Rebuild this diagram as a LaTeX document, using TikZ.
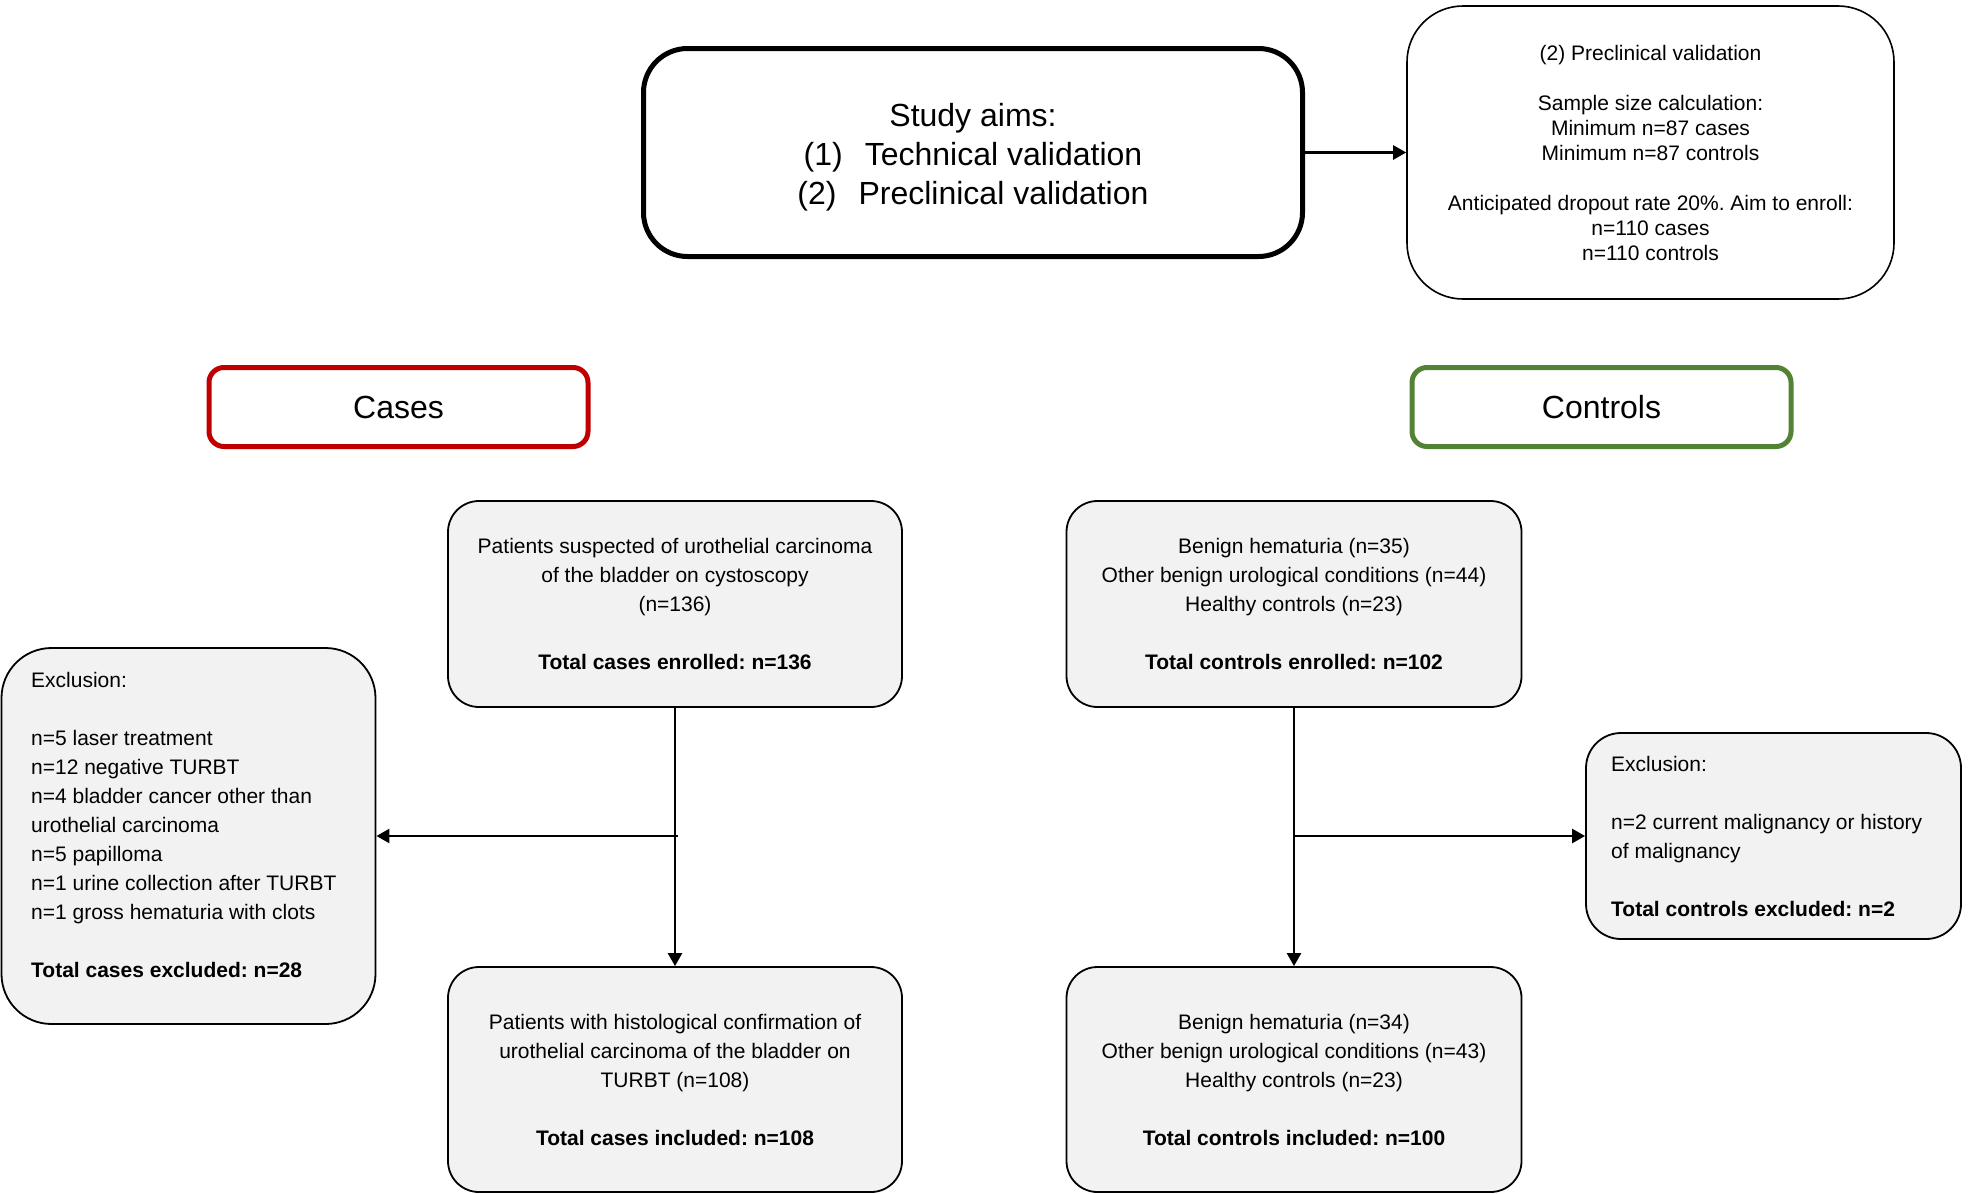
\documentclass[tikz,border=0pt]{standalone}
\usepackage{fontspec}
\setmainfont{Liberation Sans}
\usetikzlibrary{arrows.meta}
\definecolor{boxgray}{HTML}{F2F2F2}
\definecolor{casered}{HTML}{C00000}
\definecolor{ctrlgreen}{HTML}{548235}
\frenchspacing
\begin{document}
\begin{tikzpicture}[x=1pt,y=-1pt,
  bigfont/.style={font=\fontsize{32}{39}\selectfont},
  bodyfont/.style={font=\fontsize{21}{29}\selectfont\frenchspacing},
  aimbox/.style={draw=black, line width=5pt, rounded corners=44pt, inner sep=0pt, align=center, bigfont},
  prebox/.style={draw=black, line width=1.6pt, rounded corners=56pt, inner sep=0pt, align=center, font=\fontsize{21}{25}\selectfont\frenchspacing},
  groupbox/.style={line width=5pt, rounded corners=15pt, inner sep=0pt, minimum width=379pt, minimum height=79pt, bigfont},
  graybox/.style={draw=black, fill=boxgray, line width=1.8pt, inner sep=0pt, align=center, bodyfont},
  exctext/.style={inner sep=0pt, align=left, anchor=west, bodyfont},
  conn/.style={line width=2.5pt},
  arr/.style={conn, -{Triangle[length=13pt,width=14pt]}}
]
\useasboundingbox (0,0) rectangle (1968,1194);

% top
\node[aimbox, minimum width=659pt, minimum height=208pt] (aims) at (973,152.5)
  {\rule{0pt}{33pt}Study aims:\\(1)\hspace*{22pt}Technical validation\\(2)\hspace*{22pt}Preclinical validation};
\node[prebox, minimum width=487pt, minimum height=293pt] (pre) at (1650.5,152.5)
  {(2) Preclinical validation\\[25pt]Sample size calculation:\\Minimum n=87 cases\\Minimum n=87 controls\\[25pt]Anticipated dropout rate 20\%. Aim to enroll:\\n=110 cases\\n=110 controls};

% group headers
\node[groupbox, draw=casered] (cases) at (398.5,407) {Cases};
\node[groupbox, draw=ctrlgreen] (controls) at (1601.5,407) {Controls};

% cases column
\node[graybox, rounded corners=31pt, minimum width=454pt, minimum height=206pt] (cenr) at (675,604)
  {Patients suspected of urothelial carcinoma\\of the bladder on cystoscopy\\(n=136)\\[29pt]\textbf{Total cases enrolled: n=136}};
\node[graybox, rounded corners=31pt, minimum width=454pt, minimum height=225pt] (cinc) at (675,1079.5)
  {Patients with histological confirmation of\\urothelial carcinoma of the bladder on\\TURBT (n=108)\\[29pt]\textbf{Total cases included: n=108}};
\node[graybox, rounded corners=50pt, minimum width=374pt, minimum height=376pt] (exc1) at (188.5,836) {};
\node[exctext] (exc1t) at (31,825)
  {Exclusion:\\[29pt]n=5 laser treatment\\n=12 negative TURBT\\n=4 bladder cancer other than\\urothelial carcinoma\\n=5 papilloma\\n=1 urine collection after TURBT\\n=1 gross hematuria with clots\\[29pt]\textbf{Total cases excluded: n=28}};

% controls column
\node[graybox, rounded corners=31pt, minimum width=455pt, minimum height=206pt] (tenr) at (1294,604)
  {Benign hematuria (n=35)\\Other benign urological conditions (n=44)\\Healthy controls (n=23)\\[29pt]\textbf{Total controls enrolled: n=102}};
\node[graybox, rounded corners=31pt, minimum width=455pt, minimum height=225pt] (tinc) at (1294,1079.5)
  {Benign hematuria (n=34)\\Other benign urological conditions (n=43)\\Healthy controls (n=23)\\[29pt]\textbf{Total controls included: n=100}};
\node[graybox, rounded corners=35pt, minimum width=375pt, minimum height=206pt] (exc2) at (1773.5,836) {};
\node[exctext] (exc2t) at (1611,836)
  {Exclusion:\\[29pt]n=2 current malignancy or history\\of malignancy\\[29pt]\textbf{Total controls excluded: n=2}};

% connectors
\draw[arr] (aims.east) -- (pre.west);
\draw[arr] (cenr.south) -- (cinc.north);
\coordinate (cj) at (678,836);
\draw[arr] (cj) -- (exc1.east);
\draw[arr] (tenr.south) -- (tinc.north);
\coordinate (tj) at (1294,836);
\draw[arr] (tj) -- (exc2.west);
\end{tikzpicture}
\end{document}
